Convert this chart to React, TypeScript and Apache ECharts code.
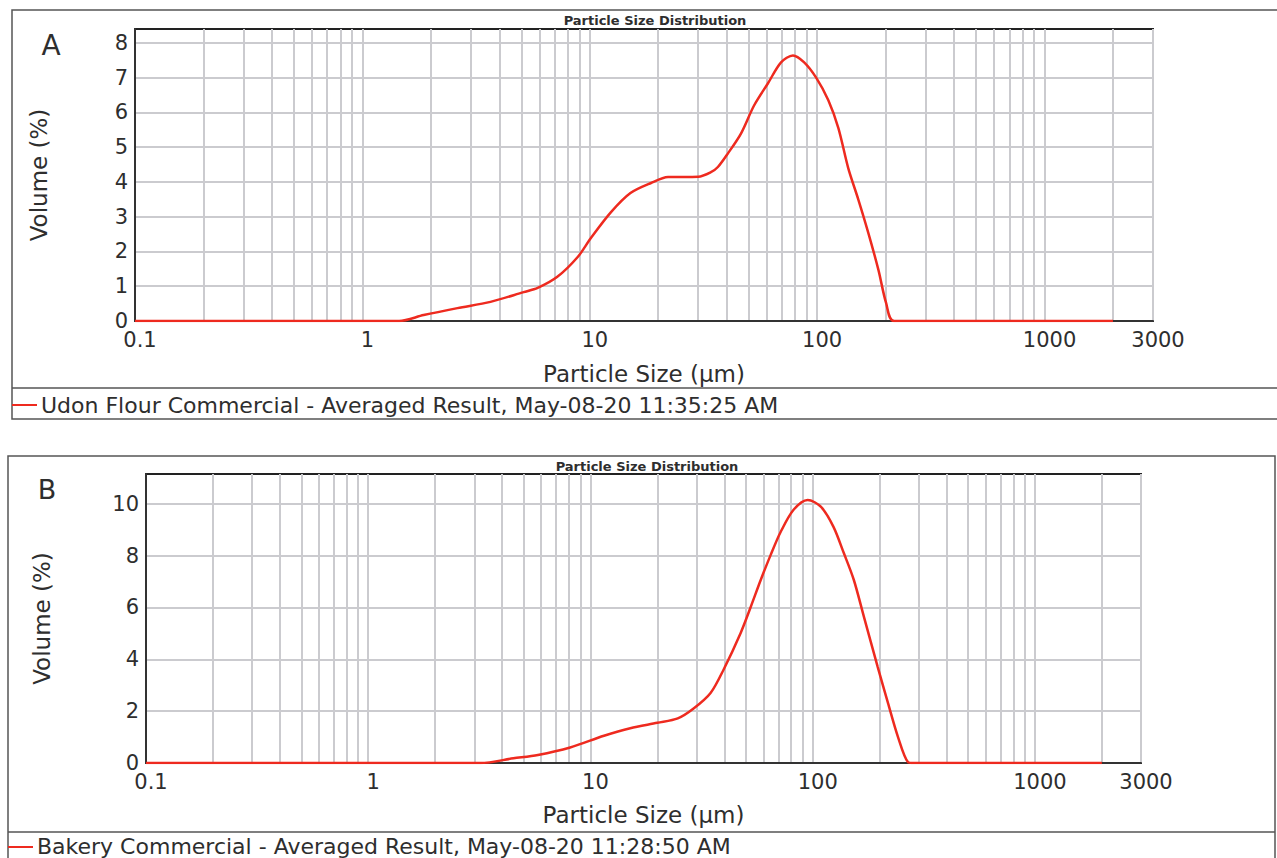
import React, { useEffect, useRef } from "react";
import * as echarts from "echarts";

// Panel A: Udon Flour Commercial
const sizesA = [0.1, 1.45, 1.86, 2.62, 3.66, 5.12, 5.9, 7.2, 8.85, 10.1, 12.4, 15.1, 18.6, 22.1, 30, 34.1, 36.6, 40.6, 46.3, 52.8, 60.8, 69.4, 78.3, 87.7, 99, 112, 124, 137, 152, 168, 186, 201, 218, 2000];
const volumeA = [0, 0, 0.17, 0.37, 0.55, 0.83, 0.95, 1.27, 1.84, 2.38, 3.13, 3.68, 3.97, 4.14, 4.15, 4.28, 4.43, 4.83, 5.4, 6.2, 6.84, 7.44, 7.64, 7.44, 7.0, 6.35, 5.55, 4.4, 3.48, 2.53, 1.47, 0.52, 0, 0];

// Panel B: Bakery Commercial
const sizesB = [0.1, 3.2, 4.5, 5.8, 8.1, 11.5, 15.1, 20, 24.7, 29.1, 34.7, 39.7, 47.4, 52.6, 58.4, 64.7, 71.8, 82, 94.9, 109, 124, 138, 153, 170, 196, 218, 242, 268, 285, 2000];
const volumeB = [0, 0, 0.18, 0.31, 0.6, 1.05, 1.34, 1.55, 1.72, 2.1, 2.7, 3.6, 5.02, 6.02, 7.07, 8.03, 8.92, 9.77, 10.15, 9.88, 9.11, 8.1, 7.07, 5.64, 3.71, 2.32, 1.0, 0.04, 0, 0];

const xTickLabels = [0.1, 1, 10, 100, 1000, 3000];
const decades = [0.1, 1, 10, 100, 1000];
const multipliers = [1, 2, 3, 4, 5, 6, 7, 8, 9];
const yTicksA = [0, 1, 2, 3, 4, 5, 6, 7, 8];
const yTicksB = [0, 2, 4, 6, 8, 10];

const legendA = "Udon Flour Commercial - Averaged Result, May-08-20 11:35:25 AM";
const legendB = "Bakery Commercial - Averaged Result, May-08-20 11:28:50 AM";
const chartTitle = "Particle Size Distribution";

const FONT = "DejaVu Sans";
const TXT = "#2e2e2e";
const RED = "#ee2a1f";
const GRID = "#cbcbcf";

const X_MIN = 0.1;
const X_MAX = 3000;

export default function App() {
  const ref = useRef<HTMLDivElement>(null);

  useEffect(() => {
    if (!ref.current) return;
    const chart = echarts.init(ref.current, undefined, { renderer: "svg" });

    const gridVals: number[] = [];
    decades.forEach((d) => multipliers.forEach((m) => {
      const v = d * m;
      if (v <= X_MAX * 1.0001) gridVals.push(Math.log10(v));
    }));
    gridVals.push(Math.log10(X_MAX));

    const fmtX = (v: number) => {
      const n = Math.pow(10, v);
      return n < 1 ? n.toFixed(1) : String(Math.round(n));
    };

    const mkX = (gridIndex: number, nameGap: number) => ({
      type: "value",
      gridIndex,
      min: Math.log10(X_MIN),
      max: Math.log10(X_MAX),
      name: "Particle Size (µm)",
      nameLocation: "middle",
      nameGap,
      nameTextStyle: { fontFamily: FONT, fontSize: 23, color: TXT },
      axisLine: { show: true, onZero: false, lineStyle: { color: "#333", width: 2 } },
      axisTick: { show: false, customValues: gridVals },
      axisLabel: {
        customValues: xTickLabels.map((v) => Math.log10(v)),
        formatter: fmtX,
        fontFamily: FONT,
        fontSize: 21,
        color: TXT,
        margin: 8,
        padding: [0, 0, 0, 10],
      },
      splitLine: { show: true, lineStyle: { color: GRID, width: 2 } },
    });

    const mkY = (gridIndex: number, max: number, ticks: number[], nameGap: number) => ({
      type: "value",
      gridIndex,
      min: 0,
      max,
      name: "Volume (%)",
      nameLocation: "middle",
      nameGap,
      nameRotate: 90,
      nameTextStyle: { fontFamily: FONT, fontSize: 23, color: TXT },
      axisLine: { show: true, onZero: false, lineStyle: { color: "#333", width: 2 } },
      axisTick: { show: false, customValues: ticks },
      axisLabel: {
        customValues: ticks,
        fontFamily: FONT,
        fontSize: 21,
        color: TXT,
        margin: 7,
      },
      splitLine: { show: true, lineStyle: { color: GRID, width: 2 } },
    });

    const txt = (x: number, y: number, text: string, size: number, opts: any = {}) => ({
      type: "text",
      x,
      y,
      silent: true,
      z: 10,
      style: {
        text,
        fontFamily: FONT,
        fontSize: size,
        fill: TXT,
        align: opts.align || "left",
        verticalAlign: "middle",
        fontWeight: opts.bold ? "bold" : "normal",
      },
    });

    const frame = "#555";

    chart.setOption({
      animation: false,
      backgroundColor: "#ffffff",
      grid: [
        { left: 135, top: 29, width: 1018, height: 292, show: true, borderColor: "#222", borderWidth: 2, backgroundColor: "transparent" },
        { left: 146, top: 474, width: 995, height: 289, show: true, borderColor: "#222", borderWidth: 2, backgroundColor: "transparent" },
      ],
      xAxis: [mkX(0, 41), mkX(1, 40)],
      yAxis: [mkY(0, 8.4, yTicksA, 85), mkY(1, 11.15, yTicksB, 93)],
      series: [
        {
          type: "line",
          xAxisIndex: 0,
          yAxisIndex: 0,
          data: sizesA.map((s, i) => [Math.log10(s), volumeA[i]]),
          showSymbol: false,
          smooth: 0.3,
          lineStyle: { color: RED, width: 2.5 },
          itemStyle: { color: RED },
          z: 5,
        },
        {
          type: "line",
          xAxisIndex: 1,
          yAxisIndex: 1,
          data: sizesB.map((s, i) => [Math.log10(s), volumeB[i]]),
          showSymbol: false,
          smooth: 0.3,
          lineStyle: { color: RED, width: 2.5 },
          itemStyle: { color: RED },
          z: 5,
        },
      ],
      graphic: [
        // Panel A frame
        { type: "rect", silent: true, shape: { x: 12, y: 10, width: 1290, height: 409 }, style: { fill: "none", stroke: frame, lineWidth: 1.5 } },
        { type: "line", silent: true, shape: { x1: 12, y1: 388, x2: 1277, y2: 388 }, style: { stroke: frame, lineWidth: 1.5 } },
        { type: "line", silent: true, shape: { x1: 12, y1: 405, x2: 37, y2: 405 }, style: { stroke: RED, lineWidth: 2 } },
        txt(41, 405, legendA, 22),
        txt(655, 20, chartTitle, 13, { align: "center", bold: true }),
        txt(51, 45, "A", 28, { align: "center" }),
        // Panel B frame
        { type: "rect", silent: true, shape: { x: 8, y: 456, width: 1267, height: 430 }, style: { fill: "none", stroke: frame, lineWidth: 1.5 } },
        { type: "line", silent: true, shape: { x1: 8, y1: 832, x2: 1275, y2: 832 }, style: { stroke: frame, lineWidth: 1.5 } },
        { type: "line", silent: true, shape: { x1: 8, y1: 847, x2: 33, y2: 847 }, style: { stroke: RED, lineWidth: 2 } },
        txt(37, 846, legendB, 22),
        txt(647, 466, chartTitle, 13, { align: "center", bold: true }),
        txt(47, 489, "B", 27, { align: "center" }),
      ],
    });

    return () => chart.dispose();
  }, []);

  return (
    <div
      ref={ref}
      style={{ position: "absolute", left: 0, top: 0, width: 1277, height: 858 }}
    />
  );
}
